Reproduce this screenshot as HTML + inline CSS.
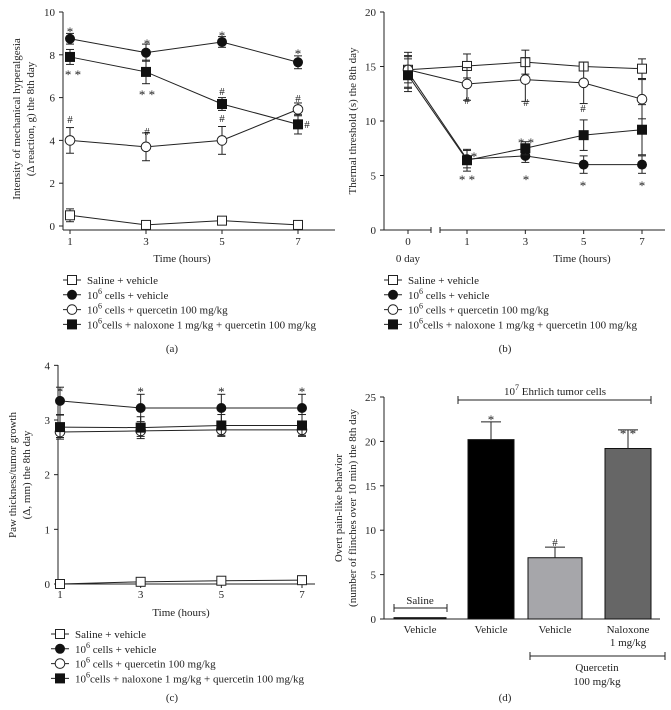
<!DOCTYPE html>
<html><head><meta charset="utf-8">
<style>
html,body{margin:0;padding:0;background:#fff;}
svg{display:block;font-family:"Liberation Serif",serif;}
text{fill:#222;}
</style></head>
<body>
<svg id="fig" width="671" height="710" viewBox="0 0 671 710" xmlns="http://www.w3.org/2000/svg"></svg>
<script>
// ---- Panel (a) data ----
const aTimes = [1, 3, 5, 7];
const aYTicks = [0, 2, 4, 6, 8, 10];
const aSaline = [0.5, 0.05, 0.25, 0.05];
const aSalineErr = [0.3, 0.1, 0.1, 0.1];
const aCells = [8.75, 8.1, 8.6, 7.65];
const aCellsErr = [0.25, 0.4, 0.25, 0.3];
const aQuer = [4.0, 3.7, 4.0, 5.45];
const aQuerErr = [0.6, 0.65, 0.65, 0.3];
const aNal = [7.9, 7.2, 5.7, 4.75];
const aNalErr = [0.35, 0.55, 0.3, 0.45];
// ---- Panel (b) data ----
const bTimes = [0, 1, 3, 5, 7];
const bYTicks = [0, 5, 10, 15, 20];
const bSaline = [14.7, 15.05, 15.4, 15.0, 14.8];
const bSalineErr = [1.2, 1.1, 1.1, 0.4, 0.9];
const bCells = [14.5, 6.5, 6.8, 6.0, 6.0];
const bCellsErr = [1.5, 0.8, 0.6, 0.8, 0.8];
const bQuer = [14.7, 13.4, 13.8, 13.5, 12.0];
const bQuerErr = [1.6, 1.5, 2.0, 1.9, 1.8];
const bNal = [14.2, 6.4, 7.5, 8.7, 9.2];
const bNalErr = [1.5, 1.0, 0.6, 1.4, 2.3];
// ---- Panel (c) data ----
const cTimes = [1, 3, 5, 7];
const cYTicks = [0, 1, 2, 3, 4];
const cSaline = [0, 0.04, 0.06, 0.07];
const cSalineErr = [0.02, 0.02, 0.02, 0.02];
const cCells = [3.35, 3.22, 3.22, 3.22];
const cCellsErr = [0.25, 0.25, 0.25, 0.25];
const cQuer = [2.78, 2.8, 2.82, 2.82];
const cQuerErr = [0.1, 0.1, 0.1, 0.1];
const cNal = [2.87, 2.86, 2.9, 2.9];
const cNalErr = [0.22, 0.2, 0.2, 0.2];
// ---- Panel (d) data ----
const dCats = ["Vehicle", "Vehicle", "Vehicle", "Naloxone"];
const dValues = [0.15, 20.2, 6.9, 19.2];
const dErr = [0.05, 2.0, 1.2, 2.1];
const dYTicks = [0, 5, 10, 15, 20, 25];

const NS = "http://www.w3.org/2000/svg";
const svg = document.getElementById('fig');
function mk(tag, attrs, parent, txt) {
  const e = document.createElementNS(NS, tag);
  for (const k in attrs) e.setAttribute(k, attrs[k]);
  if (txt !== undefined) e.textContent = txt;
  (parent || svg).appendChild(e);
  return e;
}
function line(x1,y1,x2,y2,p,w){return mk('line',{x1,y1,x2,y2,stroke:'#222','stroke-width':w||1},p);}
function txt(x,y,s,p,opt){opt=opt||{};return mk('text',Object.assign({x,y,'font-size':opt.fs||11,'text-anchor':opt.anchor||'middle'},opt.extra||{}),p,s);}

function marker(g, type, x, y) {
  let m;
  if (type === 'sq-open') m = mk('rect',{x:x-4.5,y:y-4.5,width:9,height:9,fill:'#fff',stroke:'#222','stroke-width':1},g);
  else if (type === 'sq-fill') m = mk('rect',{x:x-5,y:y-5,width:10,height:10,fill:'#111'},g);
  else if (type === 'ci-open') m = mk('circle',{cx:x,cy:y,r:4.8,fill:'#fff',stroke:'#222','stroke-width':1},g);
  else m = mk('circle',{cx:x,cy:y,r:5,fill:'#111'},g);
  
  
}
function series(panel, name, xs, ys, es, X, Y, type) {
  const g = mk('g', {}, panel);
  
  
  const pts = xs.map((t,i)=>X(t)+','+Y(ys[i])).join(' ');
  mk('polyline',{points:pts,fill:'none',stroke:'#222','stroke-width':1},g);
  xs.forEach((t,i)=>{
    const x=X(t), y1=Y(ys[i]-es[i]), y2=Y(ys[i]+es[i]);
    line(x,y1,x,y2,g); line(x-4,y1,x+4,y1,g); line(x-4,y2,x+4,y2,g);
  });
  xs.forEach((t,i)=>marker(g,type,X(t),Y(ys[i])));
}
function yaxis(panel, ticks, Y, x0, ytop, ybot) {
  const g = mk('g',{},panel);
  
  
  line(x0,ytop,x0,ybot,g);
  ticks.forEach(v=>{ line(x0-4,Y(v),x0,Y(v),g); txt(x0-8,Y(v)+4,String(v),g,{anchor:'end',fs:11}); });
}
function ytitle(panel, cx, cy, l1, l2) {
  const t = mk('text',{transform:`translate(${cx},${cy}) rotate(-90)`,'font-size':11,'text-anchor':'middle'},panel);
  
  
  const s1 = mk('tspan',{x:0,dy:0},t); s1.textContent=l1;
  const s2 = mk('tspan',{x:0,dy:14},t); s2.textContent=l2;
}
function legend(panel, x, y0) {
  const g = mk('g',{},panel);
  
  
  const types=['sq-open','ci-fill','ci-open','sq-fill'];
  const labels=[['Saline + vehicle',''],['10','  cells + vehicle'],['10','  cells + quercetin 100 mg/kg'],['10','cells + naloxone 1 mg/kg + quercetin 100 mg/kg']];
  types.forEach((tp,i)=>{
    const y=y0+i*14.8;
    const e = mk('g',{},g);
    
    
    line(x,y,x+18,y,e); marker(e,tp,x+9,y);
    const t = mk('text',{x:x+24,y:y+4,'font-size':11,'xml:space':'preserve'},e);
    if(i===0){t.textContent=labels[0][0];}
    else { const a=mk('tspan',{},t); a.textContent='10'; const b=mk('tspan',{dy:-5,'font-size':8},t); b.textContent='6'; const c=mk('tspan',{dy:5},t); c.textContent=labels[i][1]; }
  });
}
function panelG(name){const g=mk('g',{});   return g;}
function sig(P,list){list.forEach(s=>{const isStar=s[2].indexOf('*')>=0; const t=txt(s[0],s[1]+(isStar?4:0),s[2],P,{fs:isStar?13:11});  });}

// ===== Panel A =====
(function(){
  const P = panelG('panel-a');
  const X = t => 70 + (t-1)*(298-70)/6;
  const Y = v => 226 - v*(226-12)/10;
  yaxis(P, aYTicks, Y, 63, 12, 230);
  const xa = mk('g',{},P);  
  line(63,230,335,230,xa);
  aTimes.forEach(t=>{ line(X(t),230,X(t),234,xa); txt(X(t),245,String(t),xa); });
  txt(182,262,'Time (hours)',P);
  ytitle(P, 20, 119, 'Intensity of mechanical hyperalgesia', '(Δ reaction, g) the 8th day');
  series(P,'series-saline',aTimes,aSaline,aSalineErr,X,Y,'sq-open');
  series(P,'series-cells',aTimes,aCells,aCellsErr,X,Y,'ci-fill');
  series(P,'series-quercetin',aTimes,aQuer,aQuerErr,X,Y,'ci-open');
  series(P,'series-naloxone',aTimes,aNal,aNalErr,X,Y,'sq-fill');
  sig(P,[[70,32,'*'],[147,44,'*'],[222,36,'*'],[298,54,'*'],[73,75,'* *'],[147,95,'* *'],[222,95,'#'],[298,102,'#'],[307,128,'#'],[70,123,'#'],[147,135,'#'],[222,122,'#']]);
  legend(P, 63, 280);
  txt(172,352,'(a)',P);
})();

// ===== Panel B =====
(function(){
  const P = panelG('panel-b');
  const X = t => t===0 ? 408 : 467 + (t-1)*(642-467)/6;
  const Y = v => 230 - v*(230-12)/20;
  yaxis(P, bYTicks, Y, 384, 12, 230);
  const xa = mk('g',{},P);  
  line(384,230,431,230,xa); line(431,227,431,233,xa);
  line(440,230,665,230,xa); line(440,227,440,233,xa);
  bTimes.forEach(t=>{ line(X(t),230,X(t),234,xa); txt(X(t),245,String(t),xa); });
  txt(408,262,'0 day',P);
  txt(582,262,'Time (hours)',P);
  ytitle(P, 356, 121, 'Thermal threshold (s) the 8th day', '');
  series(P,'series-saline',bTimes,bSaline,bSalineErr,X,Y,'sq-open');
  series(P,'series-cells',bTimes,bCells,bCellsErr,X,Y,'ci-fill');
  series(P,'series-quercetin',bTimes,bQuer,bQuerErr,X,Y,'ci-open');
  series(P,'series-naloxone',bTimes,bNal,bNalErr,X,Y,'sq-fill');
  sig(P,[[467,104,'#'],[526,106,'#'],[583,112,'#'],[474,157,'*'],[526,143,'* *'],[467,180,'* *'],[526,180,'*'],[583,186,'*'],[642,186,'*']]);
  legend(P, 384, 280);
  txt(505,352,'(b)',P);
})();

// ===== Panel C =====
(function(){
  const P = panelG('panel-c');
  const X = t => 60 + (t-1)*(302-60)/6;
  const Y = v => 584 - v*(584-420)/3;
  yaxis(P, cYTicks, Y, 58, 365, 584);
  const xa = mk('g',{},P);  
  line(58,584,315,584,xa);
  cTimes.forEach(t=>{ line(X(t),584,X(t),588,xa); txt(X(t),598,String(t),xa); });
  txt(181,616,'Time (hours)',P);
  ytitle(P, 16, 475, 'Paw thickness/tumor growth', '(Δ, mm) the 8th day');
  series(P,'series-saline',cTimes,cSaline,cSalineErr,X,Y,'sq-open');
  series(P,'series-cells',cTimes,cCells,cCellsErr,X,Y,'ci-fill');
  series(P,'series-quercetin',cTimes,cQuer,cQuerErr,X,Y,'ci-open');
  series(P,'series-naloxone',cTimes,cNal,cNalErr,X,Y,'sq-fill');
  sig(P, cTimes.map(t=>[X(t),392,'*']));
  legend(P, 51, 634);
  txt(172,701,'(c)',P);
})();

// ===== Panel D =====
(function(){
  const P = panelG('panel-d');
  const Y = v => 619 - v*(619-397)/25;
  const centers = [420, 491, 555, 628];
  const widths = [52, 46, 54, 46];
  const fills = ['#222', '#000', '#a6a6aa', '#666666'];
  yaxis(P, dYTicks, Y, 384, 397, 619);
  line(384,619,660,619,P);
  ytitle(P, 342, 508, 'Overt pain-like behavior', '(number of flinches over 10 min) the 8th day');
  dValues.forEach((v,i)=>{
    const g = mk('g',{},P);
    
    
    const c=centers[i], w=widths[i];
    const r = mk('rect',{x:c-w/2,y:Y(v),width:w,height:619-Y(v),fill:fills[i],stroke:'#111','stroke-width':1},g);
    
    
    if(i>0){ const yt=Y(v+dErr[i]); line(c,Y(v),c,yt,g); line(c-10,yt,c+10,yt,g); }
    txt(c,633,dCats[i],g);
  });
  txt(628,646,'1 mg/kg',P);
  sig(P,[[491,420,'*'],[555,546,'#'],[628,434,'* *']]);
  function bracket(x1,x2,y,name){const g=mk('g',{},P);   line(x1,y,x2,y,g); line(x1,y-4,x1,y+4,g); line(x2,y-4,x2,y+4,g); return g;}
  const b1 = bracket(458,651,400,'ehrlich-bracket');
  const t1 = mk('text',{x:555,y:395,'font-size':11,'text-anchor':'middle'},b1);
  const s1=mk('tspan',{},t1); s1.textContent='10';
  const s2=mk('tspan',{dy:-5,'font-size':8},t1); s2.textContent='7';
  const s3=mk('tspan',{dy:5},t1); s3.textContent=' Ehrlich tumor cells';
  const b2 = bracket(394,447,608,'saline-bracket');
  txt(420,604,'Saline',b2);
  const b3 = bracket(530,665,656,'quercetin-bracket');
  txt(597,671,'Quercetin',b3);
  txt(597,685,'100 mg/kg',b3);
  txt(505,701,'(d)',P);
})();
</script>
</body></html>
